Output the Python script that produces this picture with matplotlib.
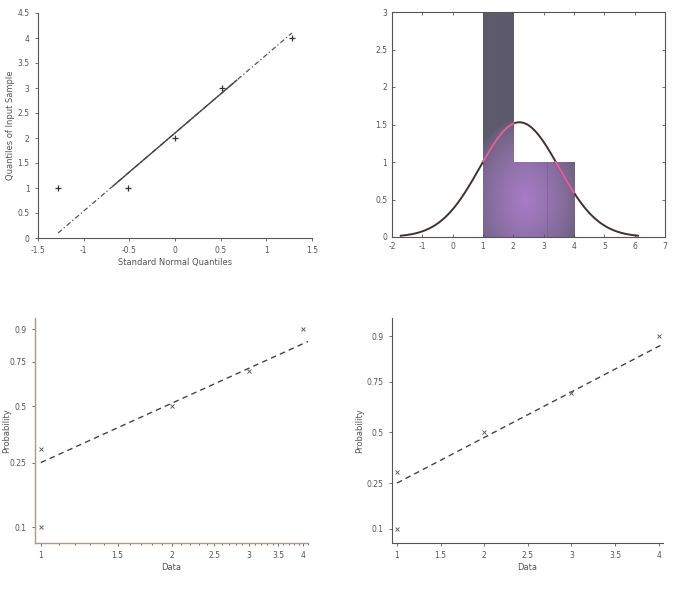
import numpy as np
import matplotlib
matplotlib.use("Agg")
import matplotlib.pyplot as plt
from matplotlib.patches import Rectangle
from matplotlib.ticker import FixedLocator, MultipleLocator, NullFormatter, FuncFormatter

# ---------------- data ----------------
sample = [1, 1, 2, 3, 4]
qq_theoretical = [-1.28, -0.52, 0.0, 0.52, 1.28]
qq_line_x = [-1.28, 1.28]
qq_line_y = [0.1, 4.1]
qq_quartile_x = [-0.6745, 0.6745]

hist_edges = [1, 2, 3, 4]
hist_counts = [3, 1, 1]

plot_pos = [0.1, 0.3, 0.5, 0.7, 0.9]
prob_ticks = [0.1, 0.25, 0.5, 0.75, 0.9]
prob_ticklabels = ["0.1", "0.25", "0.5", "0.75", "0.9"]

wbl_line_x = [1.0, 4.1]
wbl_line_p = [0.25, 0.85]
norm_line_x = [1.0, 4.05]
norm_line_p = [0.25, 0.88]

data_ticks = [1, 1.5, 2, 2.5, 3, 3.5, 4]
data_ticklabels = ["1", "1.5", "2", "2.5", "3", "3.5", "4"]

# ---------------- helpers ----------------
TXT = "#555555"
FS = 5.5


def norm_ppf(p):
    p = np.asarray(p, dtype=float)
    a = [-3.969683028665376e+01, 2.209460984245205e+02, -2.759285104469687e+02,
         1.383577518672690e+02, -3.066479806614716e+01, 2.506628277459239e+00]
    b = [-5.447609879822406e+01, 1.615858368580409e+02, -1.556989798598866e+02,
         6.680131188771972e+01, -1.328068155288572e+01]
    c = [-7.784894002430293e-03, -3.223964580411365e-01, -2.400758277161838e+00,
         -2.549732539343734e+00, 4.374664141464968e+00, 2.938163982698783e+00]
    d = [7.784695709041462e-03, 3.224671290700398e-01, 2.445134137142996e+00,
         3.754408661907416e+00]
    p = np.clip(p, 1e-9, 1 - 1e-9)
    out = np.empty_like(p)
    lo = p < 0.02425
    hi = p > 1 - 0.02425
    mid = ~(lo | hi)
    q = np.sqrt(-2 * np.log(p[lo]))
    out[lo] = (((((c[0]*q+c[1])*q+c[2])*q+c[3])*q+c[4])*q+c[5]) / ((((d[0]*q+d[1])*q+d[2])*q+d[3])*q+1)
    q = np.sqrt(-2 * np.log(1 - p[hi]))
    out[hi] = -(((((c[0]*q+c[1])*q+c[2])*q+c[3])*q+c[4])*q+c[5]) / ((((d[0]*q+d[1])*q+d[2])*q+d[3])*q+1)
    q = p[mid] - 0.5
    r = q * q
    out[mid] = (((((a[0]*r+a[1])*r+a[2])*r+a[3])*r+a[4])*r+a[5])*q / (((((b[0]*r+b[1])*r+b[2])*r+b[3])*r+b[4])*r+1)
    return out


def norm_cdf(z):
    z = np.asarray(z, dtype=float)
    from math import erf
    return 0.5 * (1 + np.vectorize(erf)(z / np.sqrt(2)))


def wbl_fwd(p):
    p = np.clip(np.asarray(p, dtype=float), 1e-9, 1 - 1e-9)
    return np.log(-np.log(1 - p))


def wbl_inv(y):
    return 1 - np.exp(-np.exp(np.asarray(y, dtype=float)))


def style_ticks(ax):
    ax.tick_params(labelsize=FS, labelcolor=TXT, colors="#555555", length=2.5, width=0.6)


fig = plt.figure(figsize=(6.87, 6.07), dpi=100)
W, H = 687, 607


def add_ax(x0, y0, x1, y1):
    return fig.add_axes([x0 / W, 1 - y1 / H, (x1 - x0) / W, (y1 - y0) / H])


# ---------------- top-left: QQ plot ----------------
ax1 = add_ax(38, 13, 312, 238)
ax1.plot(qq_line_x, qq_line_y, linestyle=(0, (4, 2, 1, 2)), color="#555555", lw=0.9)
slope = (qq_line_y[1] - qq_line_y[0]) / (qq_line_x[1] - qq_line_x[0])
qy = [qq_line_y[0] + slope * (x - qq_line_x[0]) for x in qq_quartile_x]
ax1.plot(qq_quartile_x, qy, color="#444444", lw=1.0)
ax1.plot(qq_theoretical, sample, "+", color="#333333", ms=4, mew=0.9)
ax1.set_xlim(-1.5, 1.5)
ax1.set_ylim(0, 4.5)
ax1.set_xticks([-1.5, -1, -0.5, 0, 0.5, 1, 1.5])
ax1.set_xticklabels(["-1.5", "-1", "-0.5", "0", "0.5", "1", "1.5"])
ax1.set_yticks([0, 0.5, 1, 1.5, 2, 2.5, 3, 3.5, 4, 4.5])
ax1.set_yticklabels(["0", "0.5", "1", "1.5", "2", "2.5", "3", "3.5", "4", "4.5"])
for s in ["top", "right"]:
    ax1.spines[s].set_visible(False)
for s in ["left", "bottom"]:
    ax1.spines[s].set_color("#555555")
    ax1.spines[s].set_linewidth(0.8)
style_ticks(ax1)
ax1.set_xlabel("Standard Normal Quantiles", fontsize=6, color=TXT, labelpad=2)
ax1.set_ylabel("Quantiles of Input Sample", fontsize=6, color=TXT, labelpad=2)

# ---------------- top-right: histfit ----------------
ax2 = add_ax(392, 12, 665, 237)
gx = np.linspace(0.5, 4.5, 300)
gy = np.linspace(0, 3.2, 300)
GX, GY = np.meshgrid(gx, gy)
rr = np.sqrt(((GX - 2.4) / 1.9) ** 2 + ((GY - 0.5) / 1.1) ** 2)
t = np.clip(1 - rr, 0, 1) ** 0.6
base = np.array([0x5c, 0x5a, 0x6c]) / 255
glow = np.array([0xa8, 0x7c, 0xc6]) / 255
img = base[None, None, :] * (1 - t[..., None]) + glow[None, None, :] * t[..., None]
for i, h in enumerate(hist_counts):
    rect = Rectangle((hist_edges[i], 0), hist_edges[i + 1] - hist_edges[i], h,
                     facecolor=base, edgecolor="none", zorder=1)
    ax2.add_patch(rect)
    im = ax2.imshow(img, extent=[gx[0], gx[-1], gy[0], gy[-1]], origin="lower",
                    aspect="auto", zorder=1.5)
    im.set_clip_path(rect)
ax2.plot([hist_edges[2] + 0.1, hist_edges[2] + 0.1], [0, hist_counts[2]], color="#7a5f8f", lw=0.5, zorder=1.6)

mu = np.mean(sample)
sd = np.std(sample, ddof=1)
xs = np.linspace(mu - 3 * sd, mu + 3 * sd, 400)
ys = len(sample) * 1.0 / (sd * np.sqrt(2 * np.pi)) * np.exp(-0.5 * ((xs - mu) / sd) ** 2)
ax2.plot(xs, ys, color="#45302f", lw=1.4, zorder=3)
bar_h = np.zeros_like(xs)
for i, h in enumerate(hist_counts):
    m = (xs >= hist_edges[i]) & (xs < hist_edges[i + 1])
    bar_h[m] = h
inside = np.where((ys <= bar_h) & (bar_h > 0), ys, np.nan)
ax2.plot(xs, inside, color="#e0609a", lw=1.6, zorder=4)
ax2.set_xlim(-2, 7)
ax2.set_ylim(0, 3)
ax2.set_xticks(range(-2, 8))
ax2.set_xticklabels([str(v) for v in range(-2, 8)])
ax2.set_yticks([0, 0.5, 1, 1.5, 2, 2.5, 3])
ax2.set_yticklabels(["0", "0.5", "1", "1.5", "2", "2.5", "3"])
ax2.tick_params(direction="in", top=True, right=True)
for s in ax2.spines.values():
    s.set_color("#555555")
    s.set_linewidth(0.8)
style_ticks(ax2)

# ---------------- bottom-left: Weibull probability plot ----------------
ax3 = add_ax(35, 318, 308, 543)
ax3.set_xscale("log")
ax3.set_yscale("function", functions=(wbl_fwd, wbl_inv))
ax3.plot(wbl_line_x, wbl_line_p, linestyle=(0, (4, 3)), color="#444444", lw=1.0)
ax3.plot(sample, plot_pos, "x", color="#666666", ms=3.5, mew=0.7)
ax3.set_xlim(0.97, 4.1)
ax3.set_ylim(0.079, 0.935)
ax3.xaxis.set_major_locator(FixedLocator(data_ticks))
ax3.xaxis.set_major_formatter(FuncFormatter(lambda v, p: data_ticklabels[data_ticks.index(v)] if v in data_ticks else ""))
ax3.xaxis.set_minor_locator(MultipleLocator(0.1))
ax3.xaxis.set_minor_formatter(NullFormatter())
ax3.yaxis.set_major_locator(FixedLocator(prob_ticks))
ax3.set_yticklabels(prob_ticklabels)
ax3.yaxis.set_minor_locator(FixedLocator([]))
for s in ["top", "right"]:
    ax3.spines[s].set_visible(False)
for s in ["left", "bottom"]:
    ax3.spines[s].set_color("#c0907e")
    ax3.spines[s].set_linewidth(1.0)
style_ticks(ax3)
ax3.tick_params(which="minor", length=1.5, colors="#555555")
ax3.set_xlabel("Data", fontsize=6, color=TXT, labelpad=2)
ax3.set_ylabel("Probability", fontsize=6, color=TXT)
ax3.yaxis.set_label_coords((11 - 35) / 273, 0.5)

# ---------------- bottom-right: Normal probability plot ----------------
ax4 = add_ax(392, 318, 663, 543)
ax4.set_yscale("function", functions=(lambda p: norm_ppf(p), lambda z: norm_cdf(z)))
ax4.plot(norm_line_x, norm_line_p, linestyle=(0, (4, 3)), color="#444444", lw=1.0)
ax4.plot(sample, plot_pos, "x", color="#666666", ms=3.5, mew=0.7)
ax4.set_xlim(0.943, 4.05)
ax4.set_ylim(0.0705, 0.936)
ax4.set_xticks(data_ticks)
ax4.set_xticklabels(data_ticklabels)
ax4.yaxis.set_major_locator(FixedLocator(prob_ticks))
ax4.set_yticklabels(prob_ticklabels)
ax4.yaxis.set_minor_locator(FixedLocator([]))
for s in ["top", "right"]:
    ax4.spines[s].set_visible(False)
for s in ["left", "bottom"]:
    ax4.spines[s].set_color("#555555")
    ax4.spines[s].set_linewidth(0.8)
style_ticks(ax4)
ax4.set_xlabel("Data", fontsize=6, color=TXT, labelpad=2)
ax4.set_ylabel("Probability", fontsize=6, color=TXT)
ax4.yaxis.set_label_coords((364 - 392) / 271, 0.5)

fig.savefig("out.png", dpi=100)
